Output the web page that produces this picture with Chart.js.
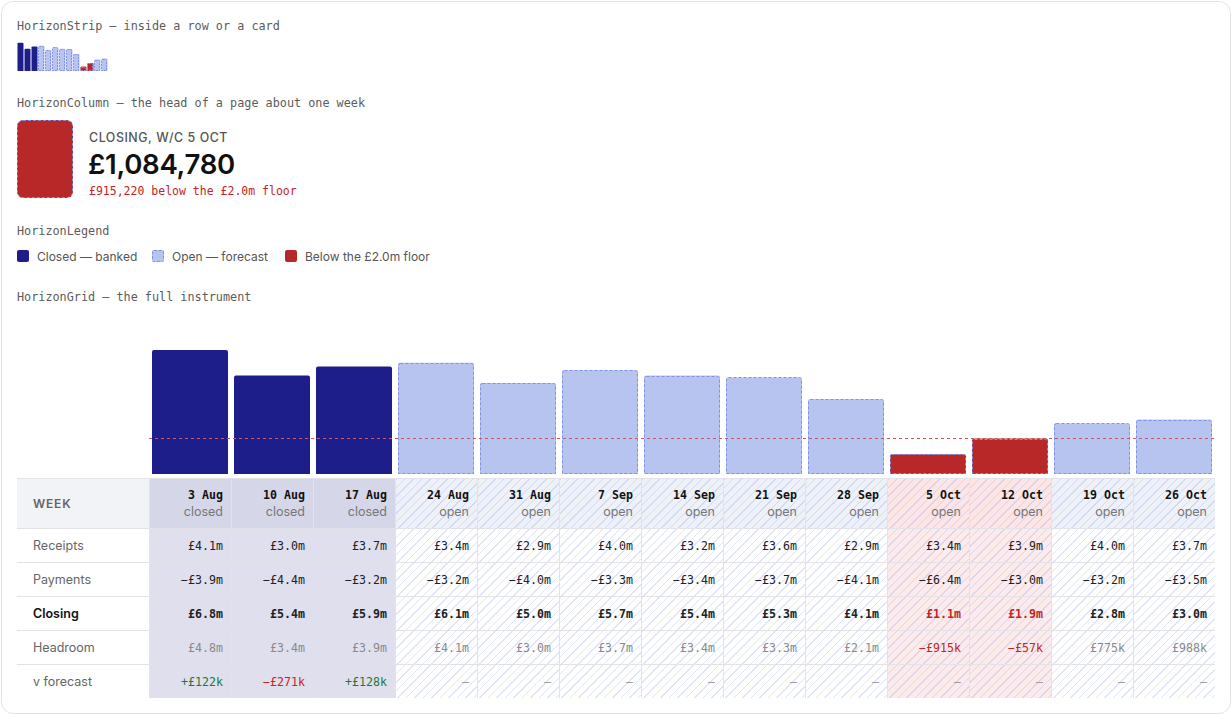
<!DOCTYPE html>
<html>
<head>
<meta charset="utf-8">
<script src="https://cdn.jsdelivr.net/npm/chart.js@4/dist/chart.umd.min.js"></script>
<style>
  body { margin: 0; width: 1232px; height: 715px; background: #fff; position: relative; overflow: hidden; font-family: Inter, "Noto Sans", sans-serif; }
  .card { position: absolute; left: 1px; top: 1px; width: 1228px; height: 711px; border: 1px solid #e3e3e7; border-radius: 12px; }
  .cap { position: absolute; left: 17px; font: 11.8px/14px "DejaVu Sans Mono", monospace; color: #5c5c5c; white-space: nowrap; }
  .abs { position: absolute; white-space: nowrap; }
  .sw { position: absolute; top: 250px; width: 12px; height: 12px; border-radius: 2px; box-sizing: border-box; }
  .lg { position: absolute; top: 249px; font-size: 12px; line-height: 16px; color: #555; }
  #grid { position: absolute; left: 17px; top: 478px; display: grid; grid-template-columns: 132px repeat(13, 82px); grid-template-rows: 50px repeat(5, 34px); }
  .c { box-sizing: border-box; border-top: 1px solid #e2e2e8; border-left: 1px solid #e2e2e8; display: flex; flex-direction: column; justify-content: center; align-items: flex-end; padding-right: 8px; font: 11.6px/14px "DejaVu Sans Mono", monospace; color: #222; }
  .lab { border-left: none; align-items: flex-start; padding-left: 16px; font: 12.5px/16px Inter, sans-serif; color: #666; }
  .hatch { background-image: repeating-linear-gradient(135deg, rgba(130,150,225,0.26) 0 1px, transparent 1px 6px); }
  .wk { font-weight: bold; color: #111; line-height: 16px; }
  .st { font: 12.5px/18px Inter, sans-serif; color: #777; }
</style>
</head>
<body>
<div class="card"></div>

<div class="cap" style="top:19px">HorizonStrip — inside a row or a card</div>
<div class="abs" style="left:17px;top:42px;width:91px;height:29px"><canvas id="strip"></canvas></div>

<div class="cap" style="top:96px">HorizonColumn — the head of a page about one week</div>
<div class="abs" style="left:17px;top:120px;width:56px;height:78px;box-sizing:border-box;border-radius:6px;background:#b92828;border:1px dashed #8092e6"></div>
<div class="abs" style="left:89px;top:130px;font-size:12.4px;line-height:16px;font-weight:500;letter-spacing:0.55px;color:#555">CLOSING, W/C 5 OCT</div>
<div class="abs" id="bignum" style="left:88px;top:147px;font-size:27.6px;line-height:34px;font-weight:600;color:#111;letter-spacing:-0.3px"></div>
<div class="abs" id="gap" style="left:89px;top:184px;font:11.5px/14px 'DejaVu Sans Mono',monospace;color:#c42424"></div>

<div class="cap" style="top:224px">HorizonLegend</div>
<div class="sw" style="left:17px;background:#1e1e8a"></div>
<div class="lg" style="left:37px">Closed — banked</div>
<div class="sw" style="left:152px;background:#b8c4f0;border:1px dashed #8092e6"></div>
<div class="lg" style="left:172px">Open — forecast</div>
<div class="sw" style="left:285px;background:#b92828"></div>
<div class="lg" style="left:305px">Below the £2.0m floor</div>

<div class="cap" style="top:290px">HorizonGrid — the full instrument</div>
<div class="abs" style="left:149px;top:310px;width:1066px;height:164px"><canvas id="grid-bars"></canvas></div>
<div id="grid"></div>

<script>
const weeks = ['3 Aug', '10 Aug', '17 Aug', '24 Aug', '31 Aug', '7 Sep', '14 Sep', '21 Sep', '28 Sep', '5 Oct', '12 Oct', '19 Oct', '26 Oct'];
const status = ['closed', 'closed', 'closed', 'open', 'open', 'open', 'open', 'open', 'open', 'open', 'open', 'open', 'open'];
const receipts = [4.1, 3.0, 3.7, 3.4, 2.9, 4.0, 3.2, 3.6, 2.9, 3.4, 3.9, 4.0, 3.7];
const payments = [-3.9, -4.4, -3.2, -3.2, -4.0, -3.3, -3.4, -3.7, -4.1, -6.4, -3.0, -3.2, -3.5];
const closing = [6.8, 5.4, 5.9, 6.1, 5.0, 5.7, 5.4, 5.3, 4.1, 1.08478, 1.943, 2.775, 2.988];
const headroomK = [4800, 3400, 3900, 4100, 3000, 3700, 3400, 3300, 2100, -915, -57, 775, 988];
const vForecastK = [122, -271, 128, null, null, null, null, null, null, null, null, null, null];
const floor = 2.0;
const focusWeek = 9;

const CLOSED = '#1e1e8a', OPEN = '#b8c4f0', BELOW = '#b92828', EDGE = '#8092e6';

function colourFor(i) {
  if (closing[i] < floor) return BELOW;
  return status[i] === 'closed' ? CLOSED : OPEN;
}

function money(v) {
  const s = '£' + Math.abs(v).toFixed(1) + 'm';
  return v < 0 ? '−' + s : s;
}
function moneyK(k) {
  const a = Math.abs(k);
  const s = a >= 1000 ? '£' + (a / 1000).toFixed(1) + 'm' : '£' + a + 'k';
  return k < 0 ? '−' + s : s;
}

// dashed outline for forecast bars + the floor line
const horizonPlugin = {
  id: 'horizon',
  afterDatasetsDraw(chart, args, opts) {
    const ctx = chart.ctx;
    const meta = chart.getDatasetMeta(0);
    ctx.save();
    ctx.strokeStyle = EDGE;
    ctx.lineWidth = 1;
    ctx.setLineDash(opts.dash);
    meta.data.forEach((bar, i) => {
      if (status[i] !== 'open') return;
      const p = bar.getProps(['x', 'y', 'base', 'width'], true);
      const x = Math.round(p.x - p.width / 2) + 0.5;
      const y = Math.round(p.y) + 0.5;
      const w = Math.round(p.width) - 1;
      const h = Math.round(p.base) - Math.round(p.y) - 1;
      ctx.beginPath();
      if (ctx.roundRect) ctx.roundRect(x, y, w, h, [opts.r, opts.r, 0, 0]);
      else ctx.rect(x, y, w, h);
      ctx.stroke();
    });
    if (opts.floorLine) {
      const fy = Math.round(chart.scales.y.getPixelForValue(floor)) + 0.5;
      ctx.strokeStyle = '#c9595b';
      ctx.setLineDash([3, 3]);
      ctx.beginPath();
      ctx.moveTo(0, fy);
      ctx.lineTo(chart.width, fy);
      ctx.stroke();
    }
    ctx.restore();
  }
};

function barChart(id, max, barPct, radius, dash, floorLine) {
  return new Chart(document.getElementById(id), {
    type: 'bar',
    data: {
      labels: weeks,
      datasets: [{
        data: closing,
        backgroundColor: closing.map((v, i) => colourFor(i)),
        borderWidth: 0,
        borderRadius: { topLeft: radius, topRight: radius, bottomLeft: 0, bottomRight: 0 },
        borderSkipped: false,
        barPercentage: barPct,
        categoryPercentage: 1
      }]
    },
    options: {
      responsive: true,
      maintainAspectRatio: false,
      animation: false,
      layout: { padding: 0 },
      scales: {
        x: { display: false },
        y: { display: false, min: 0, max: max }
      },
      plugins: {
        legend: { display: false },
        tooltip: { enabled: false },
        horizon: { dash: dash, r: radius, floorLine: floorLine }
      }
    },
    plugins: [horizonPlugin]
  });
}

barChart('strip', 7.0, 0.86, 1, [2, 1], false);
barChart('grid-bars', 9.0, 0.927, 2, [3, 2], true);

// HorizonColumn text for the focus week
const closingPounds = Math.round(closing[focusWeek] * 1e6);
document.getElementById('bignum').textContent = '£' + closingPounds.toLocaleString('en-GB');
document.getElementById('gap').textContent = '£' + (floor * 1e6 - closingPounds).toLocaleString('en-GB') + ' below the £' + floor.toFixed(1) + 'm floor';

// the table under the bars
const grid = document.getElementById('grid');
function cell(html, cls, bg) {
  const d = document.createElement('div');
  d.className = 'c ' + (cls || '');
  if (bg) d.style.backgroundColor = bg;
  d.innerHTML = html;
  grid.appendChild(d);
  return d;
}
function colBg(i, head) {
  if (status[i] === 'closed') return head ? '#d5d6e8' : '#dfdfee';
  if (closing[i] < floor) return head ? '#fde5e5' : '#fdeaea';
  return head ? '#eff1f9' : '#ffffff';
}
function colCls(i) { return status[i] === 'closed' ? '' : 'hatch'; }

const head = cell('WEEK', 'lab', '#f2f3f7');
head.style.fontWeight = '600';
head.style.letterSpacing = '0.8px';
head.style.fontSize = '12px';
weeks.forEach((w, i) => {
  cell('<span class="wk">' + w + '</span><span class="st">' + status[i] + '</span>', colCls(i), colBg(i, true));
});

const rows = [
  { name: 'Receipts', fmt: i => money(receipts[i]) },
  { name: 'Payments', fmt: i => money(payments[i]) },
  { name: 'Closing', fmt: i => money(closing[i]), bold: true },
  { name: 'Headroom', fmt: i => moneyK(headroomK[i]), grey: true },
  { name: 'v forecast', fmt: i => vForecastK[i] === null ? '—' : (vForecastK[i] > 0 ? '+' : '−') + '£' + Math.abs(vForecastK[i]) + 'k' }
];
rows.forEach(r => {
  const l = cell(r.name, 'lab');
  if (r.bold) { l.style.color = '#111'; l.style.fontWeight = '600'; }
  weeks.forEach((w, i) => {
    const d = cell(r.fmt(i), colCls(i), colBg(i, false));
    if (r.bold) d.style.fontWeight = 'bold';
    if (r.grey) d.style.color = '#8a8a8a';
    if ((r.bold || r.grey) && closing[i] < floor) d.style.color = '#c42424';
    if (r.name === 'v forecast') {
      const v = vForecastK[i];
      d.style.color = v === null ? '#999' : (v > 0 ? '#1b7a35' : '#c42424');
    }
  });
});
</script>
</body>
</html>
